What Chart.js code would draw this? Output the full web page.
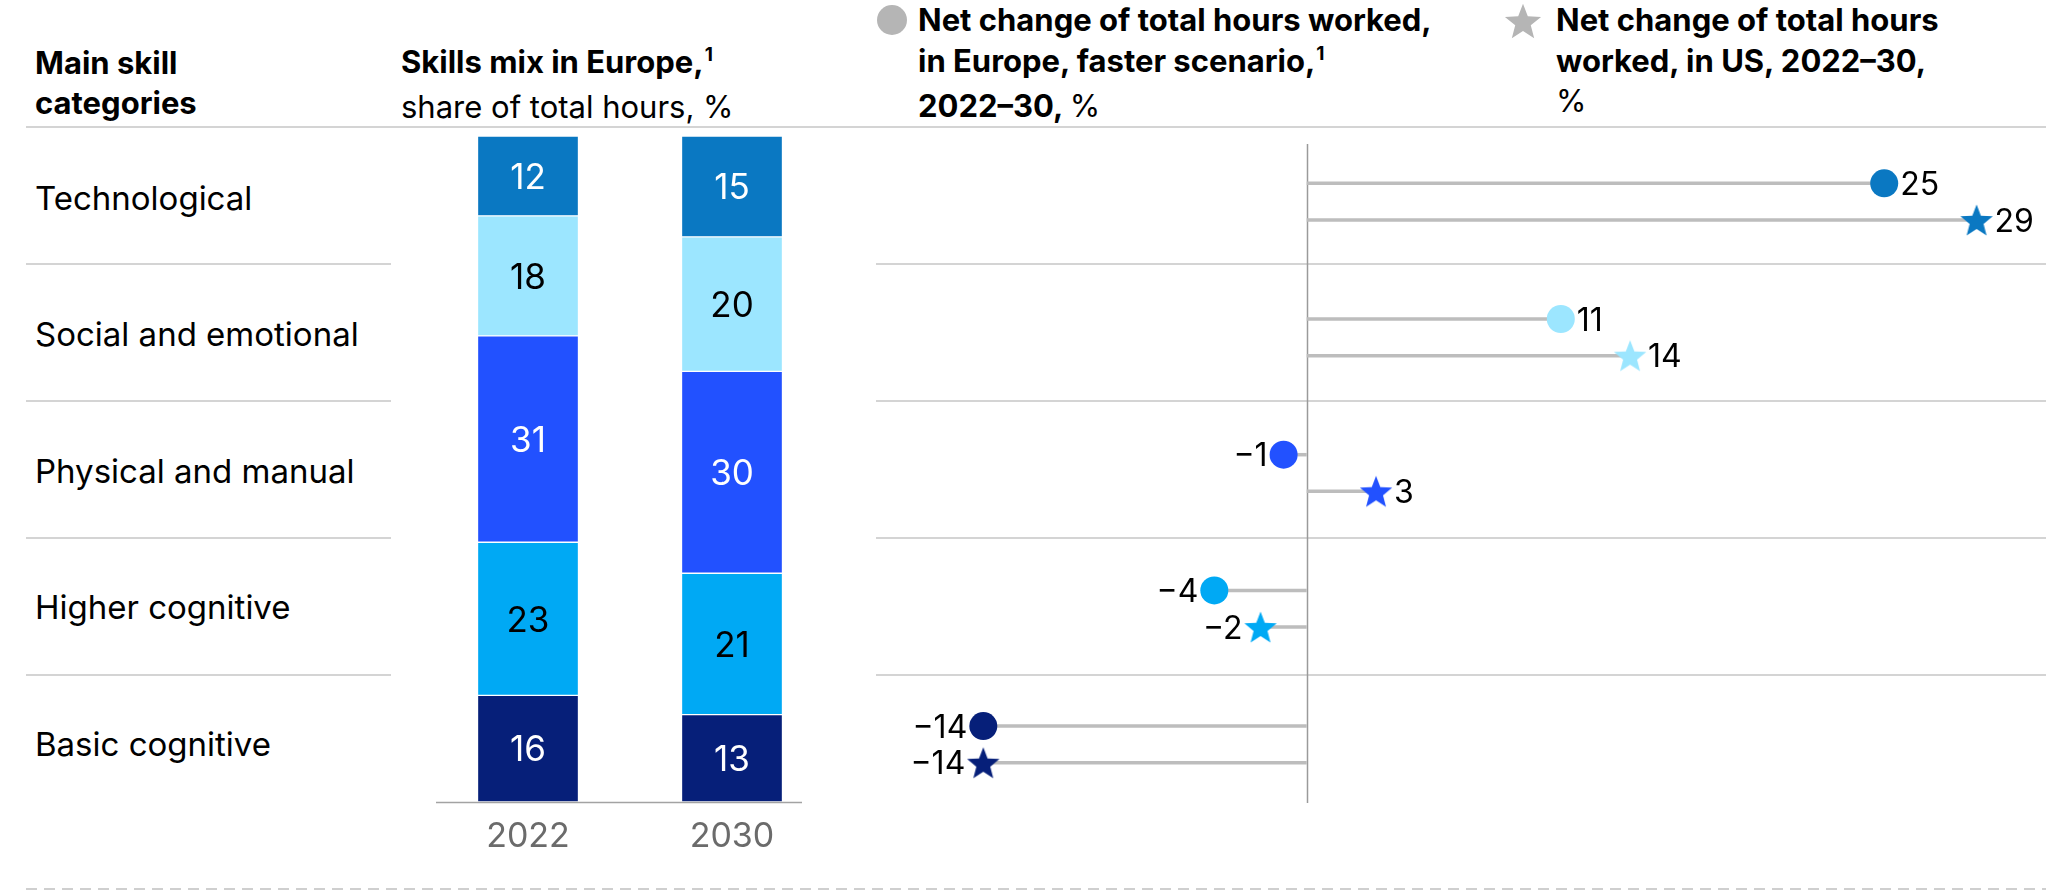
<!DOCTYPE html>
<html><head><meta charset="utf-8">
<script src="https://cdn.jsdelivr.net/npm/chart.js@4.4.1/dist/chart.umd.min.js"></script>
<style>
html,body{margin:0;padding:0;background:#fff;}
body{width:2072px;height:896px;position:relative;overflow:hidden;font-family:Inter,"Liberation Sans",Arial,sans-serif;color:#000;}
.t{position:absolute;white-space:nowrap;}
.hd{font-size:31px;line-height:40px;font-weight:700;}
.lg{line-height:40.5px;}
.rg{font-weight:400;}
.sup{font-size:19px;position:relative;top:-12px;margin-left:1px;}
.cat{font-size:33px;line-height:40px;font-weight:400;}
.hl{position:absolute;height:2px;background:#d4d4d4;}
.dash{position:absolute;height:2px;background:repeating-linear-gradient(to right,#cfcfcf 0 11px,transparent 11px 18px);}
canvas{position:absolute;}
</style></head><body>

<div class="t hd" style="left:35px;top:43px">Main skill<br>categories</div>
<div class="t hd" style="left:401px;top:42px">Skills mix in Europe,<span class="sup">1</span><br><span class="rg">share of total hours, %</span></div>
<div class="t hd lg" style="left:918px;top:0px">Net change of total hours worked,<br>in Europe, faster scenario,<span class="sup">1</span><br>2022–30, <span class="rg">%</span></div>
<div class="t hd lg" style="left:1556px;top:0px">Net change of total hours<br>worked, in US, 2022–30,<br><span class="rg">%</span></div>
<div style="position:absolute;left:877px;top:5px;width:30px;height:30px;border-radius:50%;background:#b5b5b5"></div>
<canvas id="legStar" width="40" height="40" style="left:1503px;top:1px"></canvas>

<div class="hl" style="left:26px;top:126px;width:2020px"></div>
<div id="rowLines"></div>
<div id="catLabels"></div>
<div class="dash" style="left:26px;top:888px;width:2020px"></div>

<canvas id="mix" width="408" height="740" style="left:426px;top:120px"></canvas>
<canvas id="chg" width="1200" height="690" style="left:860px;top:130px"></canvas>

<script>
// ---------- data ----------
const categories = ['Technological', 'Social and emotional', 'Physical and manual', 'Higher cognitive', 'Basic cognitive'];
const years = ['2022', '2030'];
const mix2022 = [12, 18, 31, 23, 16];
const mix2030 = [15, 20, 30, 21, 13];
const europeChange = [25, 11, -1, -4, -14];
const usChange = [29, 14, 3, -2, -14];

// ---------- styles ----------
const segColors = ['#0A78C2', '#9CE6FF', '#2251FF', '#00A9F4', '#061F79'];
const segLabelColors = ['#ffffff', '#000000', '#ffffff', '#000000', '#ffffff'];
const FONT = 'Inter, "Liberation Sans", Arial, sans-serif';

// ---------- layout helpers (html text + rules) ----------
const catBox = document.getElementById('catLabels');
categories.forEach((c, i) => {
  const d = document.createElement('div');
  d.className = 't cat';
  d.style.left = '35px';
  d.style.top = (209.5 + 136.6 * i - 32) + 'px';
  d.textContent = c;
  catBox.appendChild(d);
});
const rl = document.getElementById('rowLines');
for (let i = 1; i < categories.length; i++) {
  const y = 126.7 + 137.15 * i - 1;
  [[26, 365], [876, 1170]].forEach(([l, w]) => {
    const d = document.createElement('div');
    d.className = 'hl';
    d.style.left = l + 'px'; d.style.top = y + 'px'; d.style.width = w + 'px';
    rl.appendChild(d);
  });
}

function starCanvas(color, R) {
  const s = Math.ceil(R * 2 + 4);
  const c = document.createElement('canvas');
  c.width = s; c.height = s;
  const g = c.getContext('2d');
  const cx = s / 2, cy = s / 2 + R * 0.0955;
  g.beginPath();
  for (let k = 0; k < 10; k++) {
    const r = k % 2 ? R * 0.43 : R;
    const a = -Math.PI / 2 + k * Math.PI / 5;
    g.lineTo(cx + r * Math.cos(a), cy + r * Math.sin(a));
  }
  g.closePath();
  g.fillStyle = color;
  g.fill();
  return c;
}
// legend star
(function () {
  const lc = document.getElementById('legStar');
  const st = starCanvas('#b5b5b5', 19);
  lc.getContext('2d').drawImage(st, (40 - st.width) / 2, (40 - st.height) / 2);
})();

// ---------- stacked bar chart: skills mix ----------
const total2022 = mix2022.reduce((a, b) => a + b, 0);
const total2030 = mix2030.reduce((a, b) => a + b, 0);
const stackOrder = categories.map((c, i) => categories.length - 1 - i); // bottom first

const barLabelPlugin = {
  id: 'barLabels',
  afterDatasetsDraw(chart) {
    const ctx = chart.ctx;
    const xs = chart.scales.x, area = chart.chartArea;
    ctx.save();
    chart.data.datasets.forEach((ds, di) => {
      const meta = chart.getDatasetMeta(di);
      meta.data.forEach((el, j) => {
        ctx.font = '35px ' + FONT;
        ctx.fillStyle = ds.labelColor;
        ctx.textAlign = 'center';
        ctx.textBaseline = 'alphabetic';
        ctx.fillText(String(ds.rawValues[j]), el.x, (el.y + el.base) / 2 + 12.7);
      });
    });
    // baseline
    ctx.strokeStyle = '#a3a3a3';
    ctx.lineWidth = 1.5;
    ctx.beginPath();
    const yb = area.bottom + 0.5;
    ctx.moveTo(xs.getPixelForValue(0) - 92, yb);
    ctx.lineTo(xs.getPixelForValue(1) + 70, yb);
    ctx.stroke();
    // year labels
    ctx.font = '34px ' + FONT;
    ctx.fillStyle = '#6b6b6b';
    ctx.textAlign = 'center';
    years.forEach((y, i) => ctx.fillText(y, xs.getPixelForValue(i), area.bottom + 45));
    ctx.restore();
  }
};

new Chart(document.getElementById('mix'), {
  type: 'bar',
  data: {
    labels: years,
    datasets: stackOrder.map(i => ({
      label: categories[i],
      data: [mix2022[i] / total2022 * 100, mix2030[i] / total2030 * 100],
      rawValues: [mix2022[i], mix2030[i]],
      backgroundColor: segColors[i],
      borderColor: 'rgba(255,255,255,0.55)',
      borderWidth: 1,
      borderSkipped: false,
      barThickness: 101,
      labelColor: segLabelColors[i]
    }))
  },
  options: {
    responsive: false,
    animation: false,
    events: [],
    layout: { autoPadding: false, padding: { top: 16, bottom: 58, left: 0, right: 0 } },
    plugins: { legend: { display: false }, tooltip: { enabled: false } },
    scales: {
      x: { display: false, stacked: true },
      y: { display: false, stacked: true, min: 0, max: 100 }
    }
  },
  plugins: [barLabelPlugin]
});

// ---------- dot / star chart: net change ----------
const starOffset = 0.27;
const starImgs = segColors.map(c => starCanvas(c, 17));

const valueLabelPlugin = {
  id: 'valueLabels',
  beforeDatasetsDraw(chart) {
    const { ctx, scales: { x, y } } = chart;
    ctx.save();
    ctx.strokeStyle = '#9a9a9a';
    ctx.lineWidth = 1.5;
    ctx.beginPath();
    const zx = Math.round(x.getPixelForValue(0)) + 0.5;
    ctx.moveTo(zx, y.getPixelForValue(-0.29));
    ctx.lineTo(zx, y.getPixelForValue(4.567));
    ctx.stroke();
    ctx.restore();
  },
  afterDatasetsDraw(chart) {
    const ctx = chart.ctx;
    ctx.save();
    ctx.font = '32px ' + FONT;
    ctx.fillStyle = '#000';
    ctx.textBaseline = 'alphabetic';
    chart.data.datasets.forEach((ds, di) => {
      if (!ds.valueLabels) return;
      const meta = chart.getDatasetMeta(di);
      meta.data.forEach((el, j) => {
        const v = ds.data[j].x;
        const txt = v < 0 ? '\u2212' + Math.abs(v) : String(v);
        const off = ds.markerHalf + 2;
        if (v >= 0) { ctx.textAlign = 'left'; ctx.fillText(txt, el.x + off, el.y + 11.6); }
        else { ctx.textAlign = 'right'; ctx.fillText(txt, el.x - off, el.y + 11.6); }
      });
    });
    ctx.restore();
  }
};

const connectorSets = [];
categories.forEach((c, i) => {
  connectorSets.push({
    type: 'line', data: [{ x: 0, y: i }, { x: europeChange[i], y: i }],
    borderColor: '#bdbdbd', borderWidth: 3.5, pointRadius: 0, showLine: true, order: 2, clip: false
  });
  connectorSets.push({
    type: 'line', data: [{ x: 0, y: i + starOffset }, { x: usChange[i], y: i + starOffset }],
    borderColor: '#bdbdbd', borderWidth: 3.5, pointRadius: 0, showLine: true, order: 2, clip: false
  });
});

new Chart(document.getElementById('chg'), {
  type: 'scatter',
  data: {
    datasets: [
      {
        label: 'Europe, faster scenario',
        data: categories.map((c, i) => ({ x: europeChange[i], y: i })),
        pointStyle: 'circle',
        pointRadius: 14,
        pointBackgroundColor: segColors,
        pointBorderWidth: 0,
        pointBorderColor: segColors,
        valueLabels: true, markerHalf: 14, order: 0, clip: false
      },
      {
        label: 'US',
        data: categories.map((c, i) => ({ x: usChange[i], y: i + starOffset })),
        pointStyle: starImgs,
        pointRadius: 17,
        pointBorderWidth: 0,
        valueLabels: true, markerHalf: 16, order: 0, clip: false
      },
      ...connectorSets
    ]
  },
  options: {
    responsive: false,
    animation: false,
    events: [],
    layout: { autoPadding: false, padding: 0 },
    plugins: { legend: { display: false }, tooltip: { enabled: false } },
    scales: {
      x: { type: 'linear', display: false, min: -19.338, max: 32.61 },
      y: { type: 'linear', display: false, min: -0.3928, max: 4.692, reverse: true }
    }
  },
  plugins: [valueLabelPlugin]
});
</script>
</body></html>
